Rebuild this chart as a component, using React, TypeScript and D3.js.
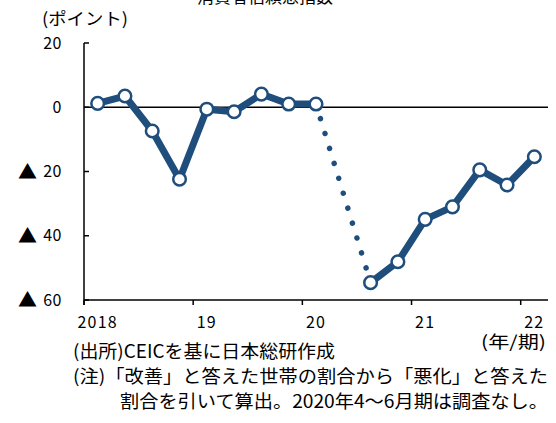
import React from "react";
import * as d3 from "d3";

const title = "消費者信頼感指数";
const unitLabel = "(ポイント)";
const xUnitLabel = "(年/期)";
const periods = [
  "2018Q1", "2018Q2", "2018Q3", "2018Q4",
  "2019Q1", "2019Q2", "2019Q3", "2019Q4",
  "2020Q1", "2020Q2", "2020Q3", "2020Q4",
  "2021Q1", "2021Q2", "2021Q3", "2021Q4",
  "2022Q1",
];
const values: (number | null)[] = [
  1.2, 3.5, -7.4, -22.4,
  -0.6, -1.4, 4.1, 1.0,
  1.0, null, -54.6, -48.1,
  -34.9, -31.0, -19.5, -24.2,
  -15.4,
];
const yearTickPeriods = ["2018Q1", "2019Q1", "2020Q1", "2021Q1", "2022Q1"];
const yearTickLabels = ["2018", "19", "20", "21", "22"];
const yTickValues = [20, 0, -20, -40, -60];
const yTickLabels = ["20", "0", "▲ 20", "▲ 40", "▲ 60"];
const notes = [
  "(出所)CEICを基に日本総研作成",
  "(注)「改善」と答えた世帯の割合から「悪化」と答えた",
  "割合を引いて算出。2020年4～6月期は調査なし。",
];

const W = 556;
const H = 423;
const BLUE = "#1f4e7d";
const FONT = "'Noto Sans CJK JP', 'Noto Sans', sans-serif";

export default function App() {
  const x = d3.scaleBand<string>().domain(periods).range([84, 548]).padding(0);
  const y = d3.scaleLinear().domain([-60, 20]).range([300, 43]);
  const cx = (p: string) => (x(p) as number) + x.bandwidth() / 2;

  const pts = periods.map((p, i) => ({ p, v: values[i] }));
  const line = d3
    .line<{ p: string; v: number | null }>()
    .defined((d) => d.v !== null)
    .x((d) => cx(d.p))
    .y((d) => y(d.v as number));

  const gapSegs: { a: { p: string; v: number }; b: { p: string; v: number } }[] = [];
  for (let i = 0; i < pts.length; i++) {
    if (pts[i].v === null) {
      let a = i - 1;
      while (a >= 0 && pts[a].v === null) a--;
      let b = i + 1;
      while (b < pts.length && pts[b].v === null) b++;
      if (a >= 0 && b < pts.length && (gapSegs.length === 0 || gapSegs[gapSegs.length - 1].a.p !== pts[a].p)) {
        gapSegs.push({ a: pts[a] as any, b: pts[b] as any });
      }
    }
  }

  return (
    <svg
      width={W}
      height={H}
      style={{ position: "absolute", left: 0, top: 0, background: "#fff" }}
      fontFamily={FONT}
    >
      <rect width={W} height={H} fill="#fff" />
      <text x={265} y={3} fontSize={17} textAnchor="middle" fill="#000" textLength={136} lengthAdjust="spacingAndGlyphs">
        {title}
      </text>
      <text x={42} y={25} fontSize={17} fill="#000" textLength={86} lengthAdjust="spacingAndGlyphs">
        {unitLabel}
      </text>

      {yTickValues.map((v, i) => {
        const lab = yTickLabels[i];
        const neg = lab.startsWith("▲");
        return (
          <g key={v}>
            <text x={62} y={y(v) + 5.5} fontSize={16} textAnchor="end" fill="#000" letterSpacing={0.5}>
              {neg ? lab.replace("▲", "").trim() : lab}
            </text>
            {neg && (
              <text x={37} y={y(v) + 7} fontSize={19} textAnchor="end" fill="#000">
                ▲
              </text>
            )}
          </g>
        );
      })}
      {yTickValues.map((v) => (
        <line key={"t" + v} x1={84} x2={89} y1={y(v)} y2={y(v)} stroke="#000" strokeWidth={1.5} />
      ))}
      <line x1={84} x2={84} y1={y(20)} y2={305} stroke="#000" strokeWidth={1.5} />
      <line x1={84} x2={548} y1={y(-60)} y2={y(-60)} stroke="#000" strokeWidth={1.5} />
      <line x1={84} x2={548} y1={y(0)} y2={y(0)} stroke="#000" strokeWidth={1.5} />
      {yearTickPeriods.map((p, i) => (
        <g key={p}>
          <line x1={x(p) as number} x2={x(p) as number} y1={y(-60)} y2={305} stroke="#000" strokeWidth={1.5} />
          <text x={cx(p)} y={327.5} fontSize={16} textAnchor="middle" fill="#000" letterSpacing={1.2}>
            {yearTickLabels[i]}
          </text>
        </g>
      ))}

      {gapSegs.map((s, i) => (
        <line
          key={i}
          x1={cx(s.a.p)}
          y1={y(s.a.v)}
          x2={cx(s.b.p)}
          y2={y(s.b.v)}
          stroke={BLUE}
          strokeWidth={5.5}
          strokeLinecap="round"
          strokeDasharray="0.01 15.6"
          strokeDashoffset={-15.2}
        />
      ))}
      <path d={line(pts) || ""} fill="none" stroke={BLUE} strokeWidth={7} strokeLinejoin="round" />
      {pts
        .filter((d) => d.v !== null)
        .map((d) => (
          <circle key={d.p} cx={cx(d.p)} cy={y(d.v as number)} r={6.3} fill="#fff" stroke={BLUE} strokeWidth={2.5} />
        ))}

      <text x={481} y={348} fontSize={17} fill="#000" textLength={65} lengthAdjust="spacingAndGlyphs">
        {xUnitLabel}
      </text>
      <text x={73} y={358} fontSize={18} fill="#000" textLength={262} lengthAdjust="spacingAndGlyphs">
        {notes[0]}
      </text>
      <text x={73} y={383} fontSize={18} fill="#000" textLength={475} lengthAdjust="spacingAndGlyphs">
        {notes[1]}
      </text>
      <text x={120} y={408} fontSize={18} fill="#000" textLength={428} lengthAdjust="spacingAndGlyphs">
        {notes[2]}
      </text>
    </svg>
  );
}
